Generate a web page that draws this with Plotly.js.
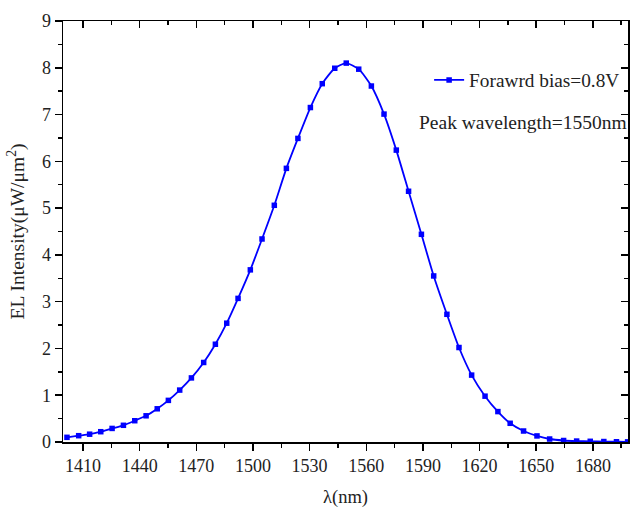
<!DOCTYPE html>
<html>
<head>
<meta charset="utf-8">
<script src="https://cdn.plot.ly/plotly-3.0.1.min.js"></script>
<style>html,body{margin:0;padding:0;background:#fff}#chart{width:630px;height:508px}</style>
</head>
<body>
<div id="chart"></div>
<script>
// Wavelength (nm)
var wavelength = [1401.5,1407.7,1413.5,1419.4,1425.4,1431.4,1437.4,1443.4,1449.3,1455.2,
  1461.2,1467.4,1473.9,1480.1,1486.1,1492.1,1498.6,1504.8,1511.3,1517.7,
  1523.8,1530.4,1536.7,1543.3,1549.4,1556.0,1562.7,1569.4,1575.9,1582.4,
  1589.2,1595.7,1602.7,1609.1,1615.8,1622.9,1629.7,1636.2,1643.3,1650.4,
  1657.1,1664.5,1671.4,1678.6,1685.8,1692.5,1698.4];
// EL intensity (uW/um^2)
var intensity = [0.10,0.135,0.167,0.22,0.29,0.357,0.455,0.56,0.71,0.89,
  1.11,1.37,1.70,2.09,2.54,3.07,3.68,4.34,5.06,5.85,
  6.49,7.15,7.66,7.99,8.10,7.97,7.61,7.01,6.24,5.36,
  4.44,3.55,2.73,2.02,1.43,0.98,0.65,0.40,0.235,0.13,
  0.064,0.032,0.02,0.015,0.01,0.005,0.003];
var seriesName = "Forawrd bias=0.8V";
var noteText = "Peak wavelength=1550nm";
var xTitle = "λ(nm)";
var yTitle = "EL Intensity(μW/μm<sup>2</sup>)";
var xRange = [1399.4, 1698.6];
var yRange = [0, 9];

var font = "Liberation Serif, Times New Roman, serif";
var ghost = {type: "scatter", mode: "markers", showlegend: false, hoverinfo: "skip",
  marker: {size: 1, opacity: 0}};
var traces = [
  {x: wavelength, y: intensity, type: "scatter", mode: "lines+markers", name: seriesName,
   line: {color: "#0000ff", width: 1.8, shape: "spline", smoothing: 0.6},
   marker: {symbol: "square", size: 5.5, color: "#0000ff"}},
  Object.assign({x: wavelength, y: intensity, xaxis: "x2", yaxis: "y"}, ghost),
  Object.assign({x: wavelength, y: intensity, xaxis: "x", yaxis: "y2"}, ghost)
];
var axisCommon = {showline: true, linecolor: "#000", linewidth: 1.5, showgrid: false, zeroline: false,
  tickcolor: "#000", tickwidth: 1.5, tickfont: {family: font, size: 18, color: "#222"}};
var layout = {
  width: 630, height: 508,
  margin: {l: 63, r: 2, t: 21, b: 66},
  paper_bgcolor: "#fff", plot_bgcolor: "#fff",
  font: {family: font, color: "#222"},
  showlegend: true,
  legend: {x: 0.648, y: 0.859, xanchor: "left", yanchor: "middle", bgcolor: "rgba(0,0,0,0)",
    font: {family: font, size: 19.3, color: "#222"}},
  xaxis: Object.assign({}, axisCommon, {range: xRange, tickmode: "linear", tick0: 1410, dtick: 30,
    ticks: "outside", ticklen: 7,
    minor: {tick0: 1410, dtick: 15, ticks: "outside", ticklen: 4, tickcolor: "#000", tickwidth: 1.5},
    title: {text: xTitle, font: {family: font, size: 18.5, color: "#222"}, standoff: 16}}),
  yaxis: Object.assign({}, axisCommon, {range: yRange, tickmode: "linear", tick0: 0, dtick: 1,
    ticks: "outside", ticklen: 7,
    minor: {dtick: 0.5, ticks: "outside", ticklen: 4, tickcolor: "#000", tickwidth: 1.5},
    title: {text: yTitle, font: {family: font, size: 19.5, color: "#222"}, standoff: 12}}),
  xaxis2: Object.assign({}, axisCommon, {range: xRange, overlaying: "x", side: "top", anchor: "y",
    tickmode: "linear", tick0: 1410, dtick: 30, ticks: "inside", ticklen: 7, showticklabels: false,
    minor: {tick0: 1410, dtick: 15, ticks: "inside", ticklen: 4, tickcolor: "#000", tickwidth: 1.5}}),
  yaxis2: Object.assign({}, axisCommon, {range: yRange, overlaying: "y", side: "right", anchor: "x",
    tickmode: "linear", tick0: 0, dtick: 1, ticks: "inside", ticklen: 7, showticklabels: false,
    minor: {dtick: 0.5, ticks: "inside", ticklen: 4, tickcolor: "#000", tickwidth: 1.5}}),
  annotations: [{text: noteText, xref: "paper", yref: "paper", x: 0.626, y: 0.76,
    xanchor: "left", yanchor: "middle", showarrow: false,
    font: {family: font, size: 19.5, color: "#222"}}]
};
Plotly.newPlot("chart", traces, layout, {displayModeBar: false, staticPlot: true});
</script>
</body>
</html>
